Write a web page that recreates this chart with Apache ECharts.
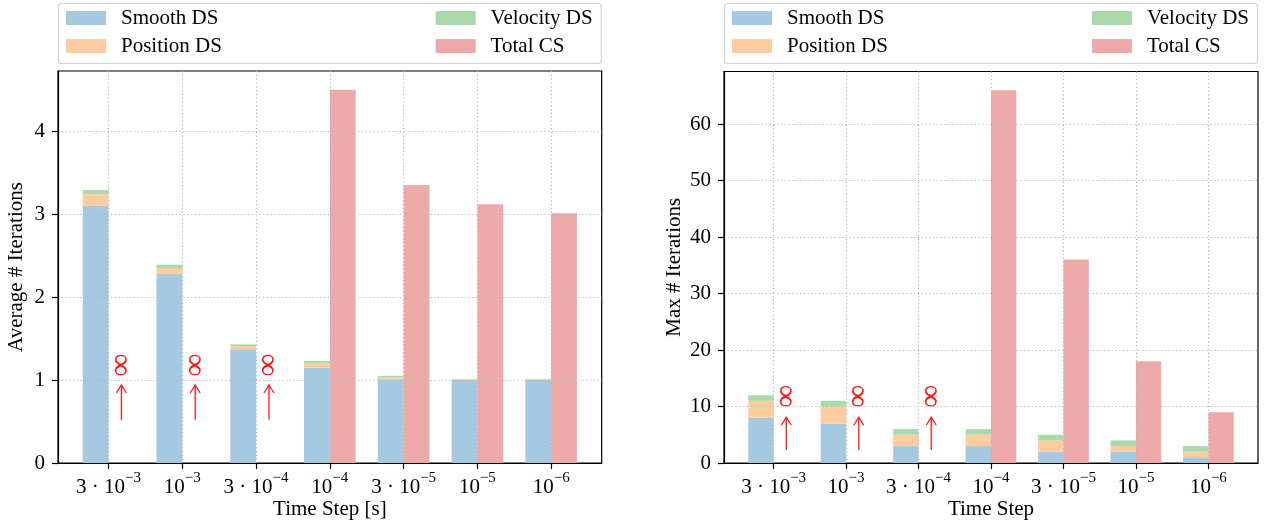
<!DOCTYPE html>
<html>
<head>
<meta charset="utf-8">
<script src="https://cdn.jsdelivr.net/npm/echarts@6/dist/echarts.min.js"></script>
<style>
  html, body { margin: 0; padding: 0; background: #fff; }
  #chart { width: 1274px; height: 526px; }
</style>
</head>
<body>
<div id="chart"></div>
<script>
// Time steps (categories) and their tick labels: mantissa part + exponent
const timeSteps = ['3e-3', '1e-3', '3e-4', '1e-4', '3e-5', '1e-5', '1e-6'];
const tickBase = ['3 · 10', '10', '3 · 10', '10', '3 · 10', '10', '10'];
const tickExp = ['−3', '−3', '−4', '−4', '−5', '−5', '−6'];

// Average iterations per step
const avgSmoothDS = [3.10, 2.28, 1.37, 1.15, 1.01, 1.00, 1.00];
const avgPositionDS = [0.14, 0.07, 0.04, 0.05, 0.02, 0.008, 0.008];
const avgVelocityDS = [0.05, 0.04, 0.02, 0.03, 0.02, 0.006, 0.006];
const avgTotalCS = [null, null, null, 4.50, 3.35, 3.12, 3.01];

// Maximum iterations per step
const maxSmoothDS = [8, 7, 3, 3, 2, 2, 1];
const maxPositionDS = [3, 3, 2, 2, 2, 1, 1];
const maxVelocityDS = [1, 1, 1, 1, 1, 1, 1];
const maxTotalCS = [null, null, null, 66, 36, 18, 9];

// y-axis tick values
const avgTicks = [0, 1, 2, 3, 4];
const maxTicks = [0, 10, 20, 30, 40, 50, 60];

const FONT = '"Liberation Serif", "DejaVu Serif", serif';
const FS = 21;
const COLORS = {
  smooth: '#a5c9e1',
  position: '#ffcc9f',
  velocity: '#abd9ab',
  total: '#eea9a9'
};
const RED = '#ff1a1a';
const GRID_LINE = { color: '#b4b4b4', width: 1.2, type: [1.2, 2.6] };
const BLACK_LINE = { color: '#000', width: 1.2 };

// Panel layout (pixels); the frame spans X_MIN..X_MAX in category units
const X_MIN = -0.685, X_MAX = 6.685, BAR_FRAC = 0.35;
const panels = [
  {
    left: 58, right: 601.7, top: 71, bottom: 463,
    yMax: 4.725, ticks: avgTicks, yName: 'Average # Iterations', xName: 'Time Step [s]', nameGap: 31,
    smooth: avgSmoothDS, position: avgPositionDS, velocity: avgVelocityDS, total: avgTotalCS,
    // diverging marker placement in y units: symbol centre, arrow bottom, arrow top
    marker: [1.18, 0.52, 0.94]
  },
  {
    left: 724, right: 1258, top: 71.5, bottom: 463,
    yMax: 69.3, ticks: maxTicks, yName: 'Max # Iterations', xName: 'Time Step', nameGap: 39,
    smooth: maxSmoothDS, position: maxPositionDS, velocity: maxVelocityDS, total: maxTotalCS,
    marker: [11.8, 2.3, 8.1]
  }
];

const W = 1274, H = 526;
const grid = [], xAxis = [], yAxis = [], series = [], legend = [], graphic = [];

panels.forEach((p, k) => {
  const frameW = p.right - p.left, frameH = p.bottom - p.top;
  const step = frameW / (X_MAX - X_MIN);       // pixels per category
  const barW = step * BAR_FRAC;
  const outer = 2 * k, inner = 2 * k + 1;

  // frame grid: spines, ticks, labels, dotted grid lines
  grid.push({
    left: p.left, top: p.top, width: frameW, height: frameH, outerBoundsMode: 'none',
    show: true, borderColor: '#000', borderWidth: 1.2, backgroundColor: 'transparent'
  });
  // bar grid: one band per time step, centred on the frame's ticks
  grid.push({
    left: p.left + (0 - X_MIN - 0.5) * step, top: p.top, width: timeSteps.length * step, height: frameH,
    outerBoundsMode: 'none', show: false
  });

  xAxis.push({
    type: 'value', gridIndex: outer, min: X_MIN, max: X_MAX, splitNumber: 8, z: 5,
    name: p.xName, nameLocation: 'middle', nameGap: 36, nameMoveOverlap: false,
    nameTextStyle: { fontFamily: FONT, fontSize: FS, color: '#000' },
    axisLine: { show: true, onZero: false, lineStyle: BLACK_LINE },
    axisTick: { show: true, length: 6, lineStyle: BLACK_LINE, customValues: timeSteps.map((_, i) => i) },
    axisLabel: {
      margin: 8, customValues: timeSteps.map((_, i) => i),
      formatter: v => {
        const i = Math.round(v);
        return '{b|' + tickBase[i] + '}{s|' + tickExp[i] + '}';
      },
      rich: {
        b: { fontFamily: FONT, fontSize: FS, color: '#000', lineHeight: 27, verticalAlign: 'bottom' },
        s: { fontFamily: FONT, fontSize: 15, color: '#000', verticalAlign: 'top' }
      }
    },
    splitLine: { show: true, lineStyle: GRID_LINE }
  });
  yAxis.push({
    type: 'value', gridIndex: outer, min: 0, max: p.yMax, interval: p.ticks[1] - p.ticks[0], z: 5,
    name: p.yName, nameLocation: 'middle', nameGap: p.nameGap, nameRotate: 90,
    nameTextStyle: { fontFamily: FONT, fontSize: FS, color: '#000' },
    axisLine: { show: true, onZero: false, lineStyle: BLACK_LINE },
    axisTick: { show: true, length: 6, lineStyle: BLACK_LINE, customValues: p.ticks },
    axisLabel: { margin: 13, fontFamily: FONT, fontSize: FS, color: '#000', customValues: p.ticks },
    splitLine: { show: true, lineStyle: GRID_LINE }
  });

  xAxis.push({ type: 'category', gridIndex: inner, data: timeSteps, boundaryGap: true, show: false });
  yAxis.push({ type: 'value', gridIndex: inner, min: 0, max: p.yMax, show: false });

  const bar = (name, values, stack, color) => ({
    type: 'bar', name, xAxisIndex: inner, yAxisIndex: inner, stack: stack + k,
    barWidth: barW, barGap: '0%',
    itemStyle: { color },
    emphasis: { disabled: true },
    data: values
  });
  series.push(bar('Smooth DS', p.smooth, 'ds', COLORS.smooth));
  series.push(bar('Position DS', p.position, 'ds', COLORS.position));
  series.push(bar('Velocity DS', p.velocity, 'ds', COLORS.velocity));
  series.push(bar('Total CS', p.total, 'cs', COLORS.total));

  // "diverged" markers (rotated infinity over an upward arrow) where the CS solver has no value
  const diverged = p.total.map((v, i) => v == null ? i : -1).filter(i => i >= 0);
  series.push({
    type: 'custom', xAxisIndex: inner, yAxisIndex: inner, z: 6, silent: true,
    data: diverged.map(i => [i, p.marker[0], p.marker[1], p.marker[2]]),
    renderItem: (params, api) => {
      const sym = api.coord([api.value(0), api.value(1)]);
      const lo = api.coord([api.value(0), api.value(2)]);
      const hi = api.coord([api.value(0), api.value(3)]);
      const x = sym[0] + barW / 2;
      return {
        type: 'group',
        children: [
          {
            type: 'text', x: x, y: sym[1], rotation: Math.PI / 2,
            style: { text: '∞', fill: RED, font: '32px ' + FONT, align: 'center', verticalAlign: 'middle' }
          },
          {
            type: 'line', shape: { x1: x, y1: lo[1], x2: x, y2: hi[1] },
            style: { stroke: RED, lineWidth: 1.3 }
          },
          {
            type: 'polyline', shape: { points: [[x - 5, hi[1] + 8], [x, hi[1]], [x + 5, hi[1] + 8]] },
            style: { stroke: RED, lineWidth: 1.3, fill: null }
          }
        ]
      };
    }
  });

  // legend frame and two legend columns
  graphic.push({
    type: 'rect', shape: { x: p.left + 0.5, y: 3.5, width: frameW - 1, height: 60, r: 3 },
    style: { fill: '#fff', stroke: '#d4d4d4', lineWidth: 1.2 }, z: 0
  });
  const legendBase = {
    orient: 'vertical', top: 7, padding: 0, itemWidth: 40, itemHeight: 14, itemGap: 6, icon: 'rect',
    selectedMode: false,
    textStyle: { fontFamily: FONT, fontSize: FS, lineHeight: 22, color: '#000', padding: [0, 0, 0, 10] }
  };
  legend.push(Object.assign({}, legendBase, { left: p.left + 8, data: ['Smooth DS', 'Position DS'] }));
  legend.push(Object.assign({}, legendBase, { right: W - (p.right - 9), data: ['Velocity DS', 'Total CS'] }));
});

const chart = echarts.init(document.getElementById('chart'), null, { renderer: 'canvas' });
chart.setOption({
  animation: false,
  backgroundColor: '#fff',
  grid, xAxis, yAxis, series, legend, graphic
});
</script>
</body>
</html>
